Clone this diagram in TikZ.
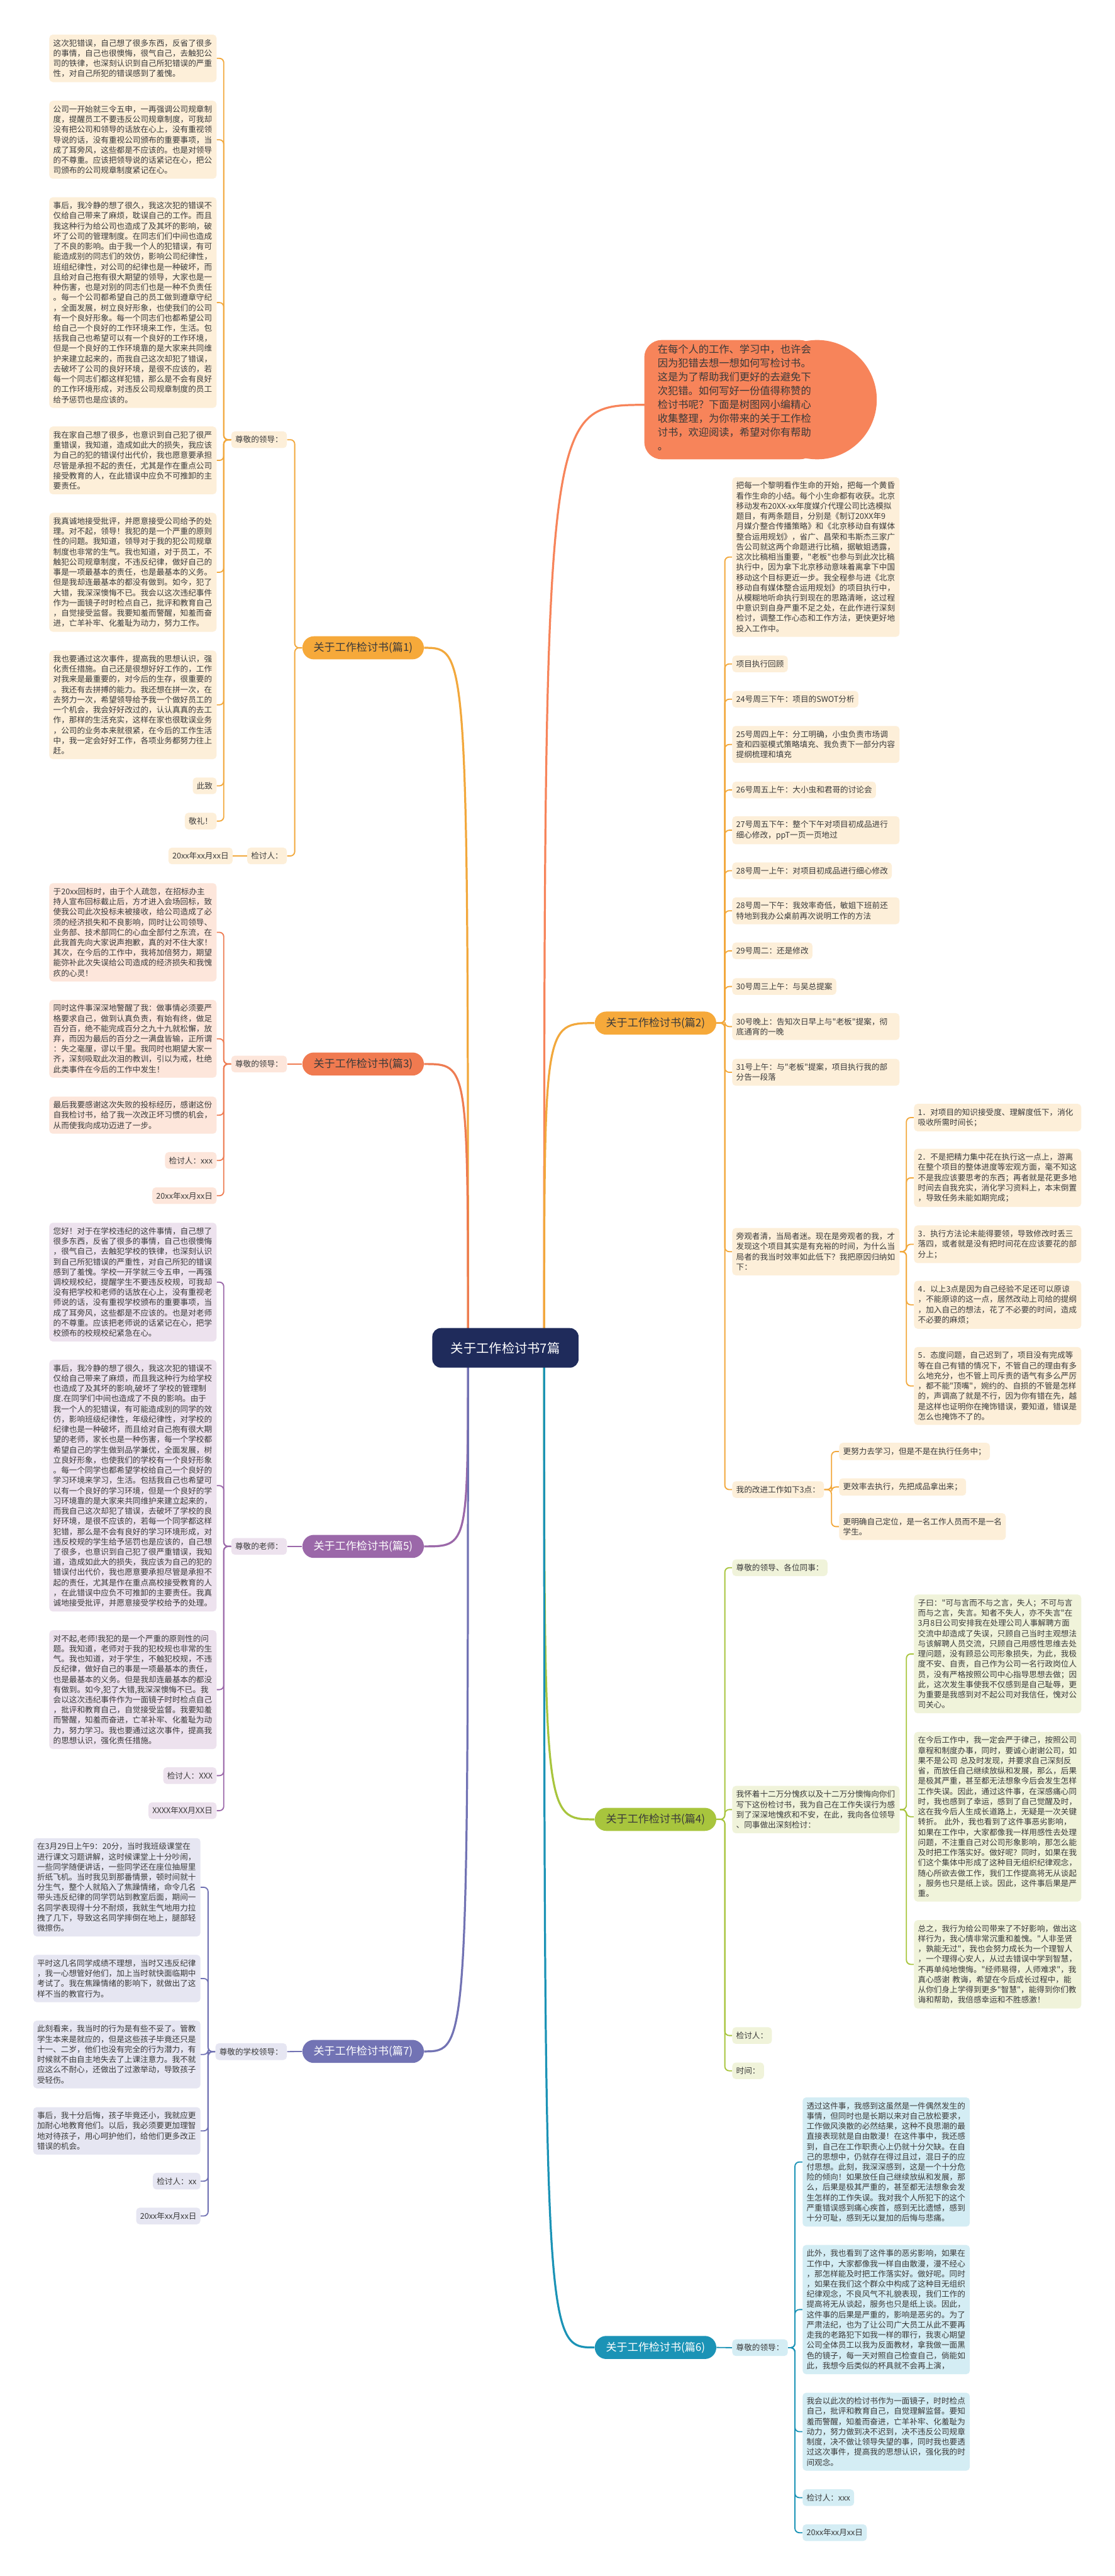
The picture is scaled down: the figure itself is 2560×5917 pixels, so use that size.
\documentclass[tikz,border=0pt]{standalone}
\usepackage{fontspec}
\newfontfamily\cjk{Noto Sans CJK SC}
\usetikzlibrary{backgrounds}
\definecolor{txt}{HTML}{3A3A3A}
\definecolor{navy}{HTML}{1F2B5B}
\definecolor{introc}{HTML}{F7845A}
\definecolor{o1}{HTML}{F6A93A}
\definecolor{o1l}{HTML}{F2A83C}
\definecolor{o1c}{HTML}{FDEFD9}
\definecolor{r3}{HTML}{F07A50}
\definecolor{r3l}{HTML}{EE7C52}
\definecolor{r3c}{HTML}{FDE6DB}
\definecolor{p5}{HTML}{9B68A9}
\definecolor{p5c}{HTML}{EDE2EE}
\definecolor{v7}{HTML}{7273B4}
\definecolor{v7c}{HTML}{E6E6F2}
\definecolor{g4}{HTML}{A8C53D}
\definecolor{g4c}{HTML}{F0F3DA}
\definecolor{t6}{HTML}{1B93B6}
\definecolor{t6c}{HTML}{D4EDF4}
\newcommand\bodyf{\cjk\fontsize{5.47}{7.035}\selectfont}
\newcommand\mainf{\cjk\fontsize{7.4}{9}\selectfont}
\newcommand\introf{\cjk\fontsize{7.05}{9.54}\selectfont}
\newcommand\cenf{\cjk\fontsize{8.8}{11}\selectfont}
\begin{document}
\begin{tikzpicture}[x=0.3pt,y=-0.3pt,
  box/.style={font=\bodyf, text=txt, rounded corners=2.4pt, inner xsep=2.7pt, inner ysep=3.2pt, align=left},
  wide/.style={box, text width=109.8pt},
  lk/.style={line width=0.8pt, rounded corners=3pt},
  mk/.style={line width=1.4pt},
  br/.style={font=\mainf, rounded corners=7.9pt, minimum width=83.7pt, minimum height=15.9pt, inner sep=0pt},
  cenbox/.style={font=\cenf, fill=navy, text=white, rounded corners=6pt, minimum width=100.8pt, minimum height=27.3pt},
  k1/.style={fill=o1c}, k3/.style={fill=r3c}, k5/.style={fill=p5c}, k7/.style={fill=v7c},
  k4/.style={fill=g4c}, k6/.style={fill=t6c}]
\useasboundingbox (0,0) rectangle (2560,5917);

% ---------- centre ----------
\node[cenbox] (cen) at (1161,3096) {关于工作检讨书7篇};
\coordinate (cL) at (1075,3096);
\coordinate (cR) at (1250,3096);

% ---------- intro ----------
\node[font=\introf, text=txt, align=left, anchor=north west, inner sep=0pt] (intro) at (1510,791)
{在每个人的工作、学习中，也许会\\因为犯错去想一想如何写检讨书。\\这是为了帮助我们更好的去避免下\\次犯错。如何写好一份值得称赞的\\检讨书呢？下面是树图网小编精心\\收集整理，为你带来的关于工作检\\讨书，欢迎阅读，希望对你有帮助\\。};
\coordinate (introL) at (1482,930);

% ---------- branch nodes ----------
\node[br, fill=o1, text=txt, anchor=west] (b1) at (694,1488) {关于工作检讨书(篇1)};
\node[br, fill=r3, text=txt, anchor=west] (b3) at (694,2444) {关于工作检讨书(篇3)};
\node[br, fill=p5, text=white, anchor=west] (b5) at (694,3552) {关于工作检讨书(篇5)};
\node[br, fill=v7, text=white, anchor=west] (b7) at (694,4712) {关于工作检讨书(篇7)};
\node[br, fill=o1, text=txt, anchor=east] (b2) at (1646,2350) {关于工作检讨书(篇2)};
\node[br, fill=g4, text=txt, anchor=east] (b4) at (1646,4179) {关于工作检讨书(篇4)};
\node[br, fill=t6, text=white, anchor=east] (b6) at (1646,5392) {关于工作检讨书(篇6)};

% ---------- 篇1 ----------
\node[box,k1,anchor=east] (z1) at (659.5,1010) {尊敬的领导：};
\node[box,k1,anchor=east] (q1) at (659.5,1966) {检讨人：};
\node[box,k1,anchor=east] (d1) at (535,1966) {20xx年xx月xx日};
\node[wide,k1,anchor=east] (a1) at (498,134) {这次犯错误，自己想了很多东西，反省了很多\\的事情，自己也很懊悔，很气自己，去触犯公\\司的铁律，也深刻认识到自己所犯错误的严重\\性，对自己所犯的错误感到了羞愧。};
\node[wide,k1,anchor=east] (a2) at (498,321) {公司一开始就三令五申，一再强调公司规章制\\度，提醒员工不要违反公司规章制度，可我却\\没有把公司和领导的话放在心上，没有重视领\\导说的话，没有重视公司颁布的重要事项，当\\成了耳旁风，这些都是不应该的。也是对领导\\的不尊重。应该把领导说的话紧记在心，把公\\司颁布的公司规章制度紧记在心。};
\node[wide,k1,anchor=east] (a3) at (498,695) {事后，我冷静的想了很久，我这次犯的错误不\\仅给自己带来了麻烦，耽误自己的工作。而且\\我这种行为给公司也造成了及其坏的影响，破\\坏了公司的管理制度。在同志们们中间也造成\\了不良的影响。由于我一个人的犯错误，有可\\能造成别的同志们的效仿，影响公司纪律性，\\班组纪律性，对公司的纪律也是一种破坏，而\\且给对自己抱有很大期望的领导，大家也是一\\种伤害，也是对别的同志们也是一种不负责任\\。每一个公司都希望自己的员工做到遵章守纪\\，全面发展，树立良好形象，也使我们的公司\\有一个良好形象。每一个同志们也都希望公司\\给自己一个良好的工作环境来工作，生活。包\\括我自己也希望可以有一个良好的工作环境，\\但是一个良好的工作环境靠的是大家来共同维\\护来建立起来的，而我自己这次却犯了错误，\\去破坏了公司的良好环境，是很不应该的，若\\每一个同志们都这样犯错，那么是不会有良好\\的工作环境形成，对违反公司规章制度的员工\\给予惩罚也是应该的。};
\node[wide,k1,anchor=east] (a4) at (498,1057.5) {我在家自己想了很多，也意识到自己犯了很严\\重错误，我知道，造成如此大的损失，我应该\\为自己的犯的错误付出代价，我也愿意要承担\\尽管是承担不起的责任，尤其是作在重点公司\\接受教育的人，在此错误中应负不可推卸的主\\要责任。};
\node[wide,k1,anchor=east] (a5) at (498,1314.5) {我真诚地接受批评，并愿意接受公司给予的处\\理。对不起，领导！我犯的是一个严重的原则\\性的问题。我知道，领导对于我的犯公司规章\\制度也非常的生气。我也知道，对于员工，不\\触犯公司规章制度，不违反纪律，做好自己的\\事是一项最基本的责任，也是最基本的义务。\\但是我却连最基本的都没有做到。如今，犯了\\大错，我深深懊悔不已。我会以这次违纪事件\\作为一面镜子时时检点自己，批评和教育自己\\，自觉接受监督。我要知羞而警醒，知羞而奋\\进，亡羊补牢、化羞耻为动力，努力工作。};
\node[wide,k1,anchor=east] (a6) at (498,1619) {我也要通过这次事件，提高我的思想认识，强\\化责任措施。自己还是很想好好工作的，工作\\对我来是最重要的，对今后的生存，很重要的\\。我还有去拼搏的能力。我还想在拼一次，在\\去努力一次，希望领导给予我一个做好员工的\\一个机会，我会好好改过的，认认真真的去工\\作，那样的生活充实，这样在家也很耽误业务\\，公司的业务本来就很紧，在今后的工作生活\\中，我一定会好好工作，各项业务都努力往上\\赶。};
\node[box,k1,anchor=east] (a7) at (498,1805) {此致};
\node[box,k1,anchor=east] (a8) at (498,1886) {敬礼！};

% ---------- 篇3 ----------
\node[box,k3,anchor=east] (z3) at (659.5,2444) {尊敬的领导：};
\node[wide,k3,anchor=east] (e1) at (498,2141.5) {于20xx回标时，由于个人疏忽，在招标办主\\持人宣布回标截止后，方才进入会场回标，致\\使我公司此次投标未被接收，给公司造成了必\\须的经济损失和不良影响，同时让公司领导、\\业务部、技术部同仁的心血全部付之东流，在\\此我首先向大家说声抱歉，真的对不住大家！\\其次，在今后的工作中，我将加倍努力，期望\\能弥补此次失误给公司造成的经济损失和我愧\\疚的心灵！};
\node[wide,k3,anchor=east] (e2) at (498,2386) {同时这件事深深地警醒了我：做事情必须要严\\格要求自己，做到认真负责，有始有终，做足\\百分百，绝不能完成百分之九十九就松懈，放\\弃，而因为最后的百分之一满盘皆输，正所谓\\：失之毫厘，谬以千里。我同时也期望大家一\\齐，深刻吸取此次泪的教训，引以为戒，杜绝\\此类事件在今后的工作中发生！};
\node[wide,k3,anchor=east] (e3) at (498,2561.5) {最后我要感谢这次失败的投标经历，感谢这份\\自我检讨书，给了我一次改正坏习惯的机会，\\从而使我向成功迈进了一步。};
\node[box,k3,anchor=east] (e4) at (498,2665.5) {检讨人：xxx};
\node[box,k3,anchor=east] (e5) at (498,2746.5) {20xx年xx月xx日};

% ---------- 篇5 ----------
\node[box,k5,anchor=east] (z5) at (659.5,3552) {尊敬的老师：};
\node[wide,k5,anchor=east] (f1) at (498,2945) {您好！对于在学校违纪的这件事情，自己想了\\很多东西，反省了很多的事情，自己也很懊悔\\，很气自己，去触犯学校的铁律，也深刻认识\\到自己所犯错误的严重性，对自己所犯的错误\\感到了羞愧。学校一开学就三令五申，一再强\\调校规校纪，提醒学生不要违反校规，可我却\\没有把学校和老师的话放在心上，没有重视老\\师说的话，没有重视学校颁布的重要事项，当\\成了耳旁风，这些都是不应该的。也是对老师\\的不尊重。应该把老师说的话紧记在心，把学\\校颁布的校规校纪紧急在心。};
\node[wide,k5,anchor=east] (f2) at (498,3412.5) {事后，我冷静的想了很久，我这次犯的错误不\\仅给自己带来了麻烦，而且我这种行为给学校\\也造成了及其坏的影响,破坏了学校的管理制\\度.在同学们中间也造成了不良的影响。由于\\我一个人的犯错误，有可能造成别的同学的效\\仿，影响班级纪律性，年级纪律性，对学校的\\纪律也是一种破坏，而且给对自己抱有很大期\\望的老师，家长也是一种伤害，每一个学校都\\希望自己的学生做到品学兼优，全面发展，树\\立良好形象，也使我们的学校有一个良好形象\\。每一个同学也都希望学校给自己一个良好的\\学习环境来学习，生活。包括我自己也希望可\\以有一个良好的学习环境，但是一个良好的学\\习环境靠的是大家来共同维护来建立起来的，\\而我自己这次却犯了错误，去破坏了学校的良\\好环境，是很不应该的，若每一个同学都这样\\犯错，那么是不会有良好的学习环境形成，对\\违反校规的学生给予惩罚也是应该的，自己想\\了很多，也意识到自己犯了很严重错误，我知\\道，造成如此大的损失，我应该为自己的犯的\\错误付出代价，我也愿意要承担尽管是承担不\\起的责任，尤其是作在重点高校接受教育的人\\，在此错误中应负不可推卸的主要责任。我真\\诚地接受批评，并愿意接受学校给予的处理。};
\node[wide,k5,anchor=east] (f3) at (498,3881) {对不起,老师!我犯的是一个严重的原则性的问\\题。我知道，老师对于我的犯校规也非常的生\\气。我也知道，对于学生，不触犯校规，不违\\反纪律，做好自己的事是一项最基本的责任，\\也是最基本的义务。但是我却连最基本的都没\\有做到。如今,犯了大错,我深深懊悔不已。我\\会以这次违纪事件作为一面镜子时时检点自己\\，批评和教育自己，自觉接受监督。我要知羞\\而警醒，知羞而奋进，亡羊补牢、化羞耻为动\\力，努力学习。我也要通过这次事件，提高我\\的思想认识，强化责任措施。};
\node[box,k5,anchor=east] (f4) at (498,4078.5) {检讨人：XXX};
\node[box,k5,anchor=east] (f5) at (498,4159) {XXXX年XX月XX日};

% ---------- 篇7 ----------
\node[box,k7,anchor=east] (z7) at (659.5,4712.5) {尊敬的学校领导：};
\node[wide,k7,anchor=east] (h1) at (461,4335) {在3月29日上午9：20分，当时我班级课堂在\\进行课文习题讲解，这时候课堂上十分吵闹，\\一些同学随便讲话，一些同学还在座位抽屉里\\折纸飞机。当时我见到那番情景，顿时间就十\\分生气，整个人就陷入了焦躁情绪，命令几名\\带头违反纪律的同学罚站到教室后面，期间一\\名同学表现得十分不耐烦，我就生气地用力拉\\拽了几下，导致这名同学摔倒在地上，腿部轻\\微擦伤。};
\node[wide,k7,anchor=east] (h2) at (461,4544.5) {平时这几名同学成绩不理想，当时又违反纪律\\，我一心想管好他们，加上当时就快面临期中\\考试了。我在焦躁情绪的影响下，就做出了这\\样不当的教官行为。};
\node[wide,k7,anchor=east] (h3) at (461,4719) {此刻看来，我当时的行为是有些不妥了。管教\\学生本来是就应的，但是这些孩子毕竟还只是\\十一、二岁，他们也没有完全的行为潜力，有\\时候就不由自主地失去了上课注意力。我不就\\应这么不耐心，还做出了过激举动，导致孩子\\受轻伤。};
\node[wide,k7,anchor=east] (h4) at (461,4894.5) {事后，我十分后悔，孩子毕竟还小，我就应更\\加耐心地教育他们。以后，我必须要更加理智\\地对待孩子，用心呵护他们，给他们更多改正\\错误的机会。};
\node[box,k7,anchor=east] (h5) at (461,5010) {检讨人：xx};
\node[box,k7,anchor=east] (h6) at (461,5090) {20xx年xx月xx日};

% ---------- 篇2 ----------
\node[wide,k1,anchor=west] (g1) at (1681.5,1279.5) {把每一个黎明看作生命的开始，把每一个黄昏\\看作生命的小结。每个小生命都有收获。北京\\移动发布20XX-xx年度媒介代理公司比选模拟\\题目，有两条题目，分别是《制订20XX年9\\月媒介整合传播策略》和《北京移动自有媒体\\整合运用规划》，省广、昌荣和韦斯杰三家广\\告公司就这两个命题进行比稿，据敏姐透露，\\这次比稿相当重要，"老板"也参与到此次比稿\\执行中，因为拿下北京移动意味着离拿下中国\\移动这个目标更近一步。我全程参与进《北京\\移动自有媒体整合运用规划》的项目执行中，\\从模糊地听命执行到现在的思路清晰，这过程\\中意识到自身严重不足之处，在此作进行深刻\\检讨，调整工作心态和工作方法，更快更好地\\投入工作中。};
\node[box,k1,anchor=west] (g2) at (1681.5,1525) {项目执行回顾};
\node[box,k1,anchor=west] (g3) at (1681.5,1606) {24号周三下午：项目的SWOT分析};
\node[wide,k1,anchor=west] (g4) at (1681.5,1710) {25号周四上午：分工明确，小虫负责市场调\\查和四驱模式策略填充、我负责下一部分内容\\提纲梳理和填充};
\node[box,k1,anchor=west] (g5) at (1681.5,1814.5) {26号周五上午：大小虫和君哥的讨论会};
\node[wide,k1,anchor=west] (g6) at (1681.5,1907) {27号周五下午：整个下午对项目初成品进行\\细心修改，ppT一页一页地过};
\node[box,k1,anchor=west] (g7) at (1681.5,2000) {28号周一上午：对项目初成品进行细心修改};
\node[wide,k1,anchor=west] (g8) at (1681.5,2092) {28号周一下午：我效率奇低，敏姐下班前还\\特地到我办公桌前再次说明工作的方法};
\node[box,k1,anchor=west] (g9) at (1681.5,2184) {29号周二：还是修改};
\node[box,k1,anchor=west] (g10) at (1681.5,2266) {30号周三上午：与吴总提案};
\node[wide,k1,anchor=west] (g11) at (1681.5,2358) {30号晚上：告知次日早上与"老板"提案，彻\\底通宵的一晚};
\node[wide,k1,anchor=west] (g12) at (1681.5,2463) {31号上午：与"老板"提案，项目执行我的部\\分告一段落};
\node[wide,k1,anchor=west] (g13) at (1681.5,2875) {旁观者清，当局者迷。现在是旁观者的我，才\\发现这个项目其实是有充裕的时间，为什么当\\局者的我当时效率如此低下？我把原因归纳如\\下：};
\node[box,k1,anchor=west] (g14) at (1681.5,3421.5) {我的改进工作如下3点：};
\node[wide,k1,anchor=west] (r1) at (2099,2567) {1．对项目的知识接受度、理解度低下，消化\\吸收所需时间长；};
\node[wide,k1,anchor=west] (r2) at (2099,2705.5) {2．不是把精力集中花在执行这一点上，游离\\在整个项目的整体进度等宏观方面，毫不知这\\不是我应该要思考的东西；再者就是花更多地\\时间去自我充实，消化学习资料上，本末倒置\\，导致任务未能如期完成；};
\node[wide,k1,anchor=west] (r3) at (2099,2858) {3．执行方法论未能得要领，导致修改时丢三\\落四，或者就是没有把时间花在应该要花的部\\分上；};
\node[wide,k1,anchor=west] (r4) at (2099,2997) {4．以上3点是因为自己经验不足还可以原谅\\，不能原谅的这一点，居然改动上司给的提纲\\，加入自己的想法，花了不必要的时间，造成\\不必要的麻烦；};
\node[wide,k1,anchor=west] (r5) at (2099,3183.5) {5．态度问题，自己迟到了，项目没有完成等\\等在自己有错的情况下，不管自己的理由有多\\么地充分，也不管上司斥责的语气有多么严厉\\，都不能"顶嘴"，婉约的、自损的不管是怎样\\的，声调高了就是不行，因为你有错在先，越\\是这样也证明你在掩饰错误，要知道，错误是\\怎么也掩饰不了的。};
\node[box,k1,anchor=west] (u1) at (1927,3334) {更努力去学习，但是不是在执行任务中；};
\node[box,k1,anchor=west] (u2) at (1927,3415.5) {更效率去执行，先把成品拿出来；};
\node[box,k1,anchor=west] (u3) at (1927,3506.5) {更明确自己定位，是一名工作人员而不是一名\\学生。};

% ---------- 篇4 ----------
\node[box,k4,anchor=west] (w1) at (1681.5,3601) {尊敬的领导、各位同事：};
\node[wide,k4,anchor=west] (w2) at (1681.5,4156.5) {我怀着十二万分愧疚以及十二万分懊悔向你们\\写下这份检讨书，我为自己在工作失误行为感\\到了深深地愧疚和不安，在此，我向各位领导\\、同事做出深刻检讨：};
\node[box,k4,anchor=west] (w3) at (1681.5,4675.5) {检讨人：};
\node[box,k4,anchor=west] (w4) at (1681.5,4756.5) {时间：};
\node[wide,k4,anchor=west] (x1) at (2099,3799) {子曰："可与言而不与之言，失人；不可与言\\而与之言，失言。知者不失人，亦不失言"在\\3月8日公司安排我在处理公司人事解聘方面\\交流中却造成了失误，只顾自己当时主观想法\\与该解聘人员交流，只顾自己用感性思维去处\\理问题，没有顾忌公司形象损失，为此，我极\\度不安、自责，自己作为公司一名行政岗位人\\员，没有严格按照公司中心指导思想去做；因\\此，这次发生事使我不仅感到是自己耻辱，更\\为重要是我感到对不起公司对我信任，愧对公\\司关心。};
\node[wide,k4,anchor=west] (x2) at (2099,4173) {在今后工作中，我一定会严于律己，按照公司\\章程和制度办事，同时，要诚心谢谢公司，如\\果不是公司~总及时发现，并要求自己深刻反\\省，而放任自己继续放纵和发展，那么，后果\\是极其严重，甚至都无法想象今后会发生怎样\\工作失误。因此，通过这件事，在深感痛心同\\时，我也感到了幸运，感到了自己觉醒及时，\\这在我今后人生成长道路上，无疑是一次关键\\转折。~此外，我也看到了这件事恶劣影响，\\如果在工作中，大家都像我一样用感性去处理\\问题，不注重自己对公司形象影响，那怎么能\\及时把工作落实好。做好呢？同时，如果在我\\们这个集体中形成了这种目无组织纪律观念，\\随心所欲去做工作，我们工作提高将无从谈起\\，服务也只是纸上谈。因此，这件事后果是严\\重。};
\node[wide,k4,anchor=west] (x3) at (2099,4512) {总之，我行为给公司带来了不好影响，做出这\\样行为，我心情非常沉重和羞愧。"人非圣贤\\，孰能无过"，我也会努力成长为一个理智人\\，一个理得心安人，从过去错误中学到智慧，\\不再单纯地懊悔。"经师易得，人师难求"，我\\真心感谢~教诲，希望在今后成长过程中，能\\从你们身上学得到更多"智慧"，能得到你们教\\诲和帮助，我倍感幸运和不胜感激！};

% ---------- 篇6 ----------
\node[box,k6,anchor=west] (z6) at (1681.5,5392.5) {尊敬的领导：};
\node[wide,k6,anchor=west] (y1) at (1843,4966) {透过这件事，我感到这虽然是一件偶然发生的\\事情，但同时也是长期以来对自己放松要求，\\工作做风涣散的必然结果，这种不良思潮的最\\直接表现就是自由散漫！在这件事中，我还感\\到，自己在工作职责心上仍就十分欠缺。在自\\己的思想中，仍就存在得过且过，混日子的应\\付思想。此刻，我深深感到，这是一个十分危\\险的倾向！如果放任自己继续放纵和发展，那\\么，后果是极其严重的，甚至都无法想象会发\\生怎样的工作失误。我对我个人所犯下的这个\\严重错误感到痛心疾首，感到无比遗憾，感到\\十分可耻，感到无以复加的后悔与悲痛。};
\node[wide,k6,anchor=west] (y2) at (1843,5305) {此外，我也看到了这件事的恶劣影响，如果在\\工作中，大家都像我一样自由散漫，漫不经心\\，那怎样能及时把工作落实好。做好呢。同时\\，如果在我们这个群众中构成了这种目无组织\\纪律观念，不良风气不礼貌表现，我们工作的\\提高将无从谈起，服务也只是纸上谈。因此，\\这件事的后果是严重的，影响是恶劣的。为了\\严肃法纪，也为了让公司广大员工从此不要再\\走我的老路犯下如我一样的罪行，我衷心期望\\公司全体员工以我为反面教材，拿我做一面黑\\色的镜子，每一天对照自己检查自己，倘能如\\此，我想今后类似的杯具就不会再上演，};
\node[wide,k6,anchor=west] (y3) at (1843,5585.5) {我会以此次的检讨书作为一面镜子，时时检点\\自己，批评和教育自己，自觉理解监督。要知\\羞而警醒，知羞而奋进，亡羊补牢、化羞耻为\\动力，努力做到决不迟到，决不违反公司规章\\制度，决不做让领导失望的事，同时我也要透\\过这次事件，提高我的思想认识，强化我的时\\间观念。};
\node[box,k6,anchor=west] (y4) at (1843,5737) {检讨人：xxx};
\node[box,k6,anchor=west] (y5) at (1843,5817.5) {20xx年xx月xx日};

% ---------- spine coordinates ----------
\coordinate (s1) at (677,1488);
\coordinate (s1z) at (514,1010);
\coordinate (s3z) at (514,2444);
\coordinate (s5z) at (514,3552);
\coordinate (s7z) at (478,4712.5);
\coordinate (s2) at (1665,2350);
\coordinate (s2r) at (2082,2875);
\coordinate (s2u) at (1910,3421.5);
\coordinate (s4) at (1665,4179);
\coordinate (s4x) at (2082,4156.5);
\coordinate (s6) at (1826,5392.5);

\begin{scope}[on background layer]
\fill[white] (0,0) rectangle (2560,5917);
% main connectors
\draw[mk,o1l] (cL) .. controls (cL |- b1) .. (b1.east);
\draw[mk,r3l] (cL) .. controls (cL |- b3) .. (b3.east);
\draw[mk,p5] (cL) .. controls (cL |- b5) .. (b5.east);
\draw[mk,v7] (cL) .. controls (cL |- b7) .. (b7.east);
\draw[mk,introc] (cR) .. controls (cR |- introL) .. (introL);
\draw[mk,o1l] (cR) .. controls (cR |- b2) .. (b2.west);
\draw[mk,g4] (cR) .. controls (cR |- b4) .. (b4.west);
\draw[mk,t6] (cR) .. controls (cR |- b6) .. (b6.west);
% intro bubble
\fill[introc, rounded corners=12pt] (1480,781) rectangle (1877,1055);
\fill[introc] (1877,918) circle[radius=137];
% 篇1
\foreach \n in {z1,q1} \draw[lk,o1l] (b1.west) -- (s1) |- (\n.east);
\draw[lk,o1l] (q1.west) -- (d1.east);
\foreach \n in {a1,a2,a3,a4,a5,a6,a7,a8} \draw[lk,o1l] (z1.west) -- (s1z) |- (\n.east);
% 篇3
\draw[lk,r3l] (b3.west) -- (z3.east);
\foreach \n in {e1,e2,e3,e4,e5} \draw[lk,r3l] (z3.west) -- (s3z) |- (\n.east);
% 篇5
\draw[lk,p5] (b5.west) -- (z5.east);
\foreach \n in {f1,f2,f3,f4,f5} \draw[lk,p5] (z5.west) -- (s5z) |- (\n.east);
% 篇7
\draw[lk,v7] (b7.west) -- (z7.east);
\foreach \n in {h1,h2,h3,h4,h5,h6} \draw[lk,v7] (z7.west) -- (s7z) |- (\n.east);
% 篇2
\foreach \n in {g1,g2,g3,g4,g5,g6,g7,g8,g9,g10,g11,g12,g13,g14} \draw[lk,o1l] (b2.east) -- (s2) |- (\n.west);
\foreach \n in {r1,r2,r3,r4,r5} \draw[lk,o1l] (g13.east) -- (s2r) |- (\n.west);
\foreach \n in {u1,u2,u3} \draw[lk,o1l] (g14.east) -- (s2u) |- (\n.west);
% 篇4
\foreach \n in {w1,w2,w3,w4} \draw[lk,g4] (b4.east) -- (s4) |- (\n.west);
\foreach \n in {x1,x2,x3} \draw[lk,g4] (w2.east) -- (s4x) |- (\n.west);
% 篇6
\draw[lk,t6] (b6.east) -- (z6.west);
\foreach \n in {y1,y2,y3,y4,y5} \draw[lk,t6] (z6.east) -- (s6) |- (\n.west);
\end{scope}
\end{tikzpicture}
\end{document}
